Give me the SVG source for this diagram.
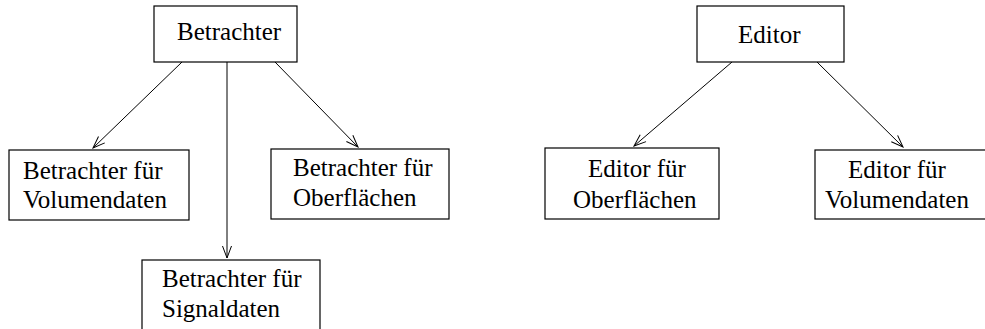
<svg xmlns="http://www.w3.org/2000/svg" width="985" height="329" viewBox="0 0 985 329">
  <defs>
    <marker id="open-arrow" markerUnits="userSpaceOnUse" markerWidth="16" markerHeight="12" viewBox="-14 -6 16 12" refX="0" refY="0" orient="auto">
      <path d="M-12,-4.5 L0,0 L-12,4.5" fill="none" stroke="#000" stroke-width="1"/>
    </marker>
  </defs>
  <style>
    .box { fill: #fff; stroke: #000; stroke-width: 1.2; }
    .lbl { font-family: "Liberation Serif", "Times New Roman", serif; font-size: 25px; fill: #000; }
    .edge { fill: none; stroke: #000; stroke-width: 1; marker-end: url(#open-arrow); }
  </style>
  <rect width="985" height="329" fill="#fff"/>

  <g id="connectors">
    <line class="edge" x1="182" y1="62" x2="93" y2="148"/>
    <line class="edge" x1="227" y1="62" x2="227" y2="258"/>
    <line class="edge" x1="275" y1="62" x2="358" y2="147"/>
    <line class="edge" x1="732" y1="62" x2="634" y2="146"/>
    <line class="edge" x1="817" y1="62" x2="903" y2="147"/>
  </g>

  <g id="betrachter">
    <rect class="box" x="154" y="6" width="143" height="56"/>
    <text class="lbl" x="177" y="40">Betrachter</text>
  </g>

  <g id="betrachter-volumendaten">
    <rect class="box" x="9" y="150" width="180" height="70"/>
    <text class="lbl" x="23" y="179">Betrachter für</text>
    <text class="lbl" x="23" y="208">Volumendaten</text>
  </g>

  <g id="betrachter-signaldaten">
    <rect class="box" x="142" y="260" width="178" height="80"/>
    <text class="lbl" x="162" y="287">Betrachter für</text>
    <text class="lbl" x="162" y="317">Signaldaten</text>
  </g>

  <g id="betrachter-oberflaechen">
    <rect class="box" x="271" y="149" width="178" height="70"/>
    <text class="lbl" x="293" y="176">Betrachter für</text>
    <text class="lbl" x="293" y="206">Oberflächen</text>
  </g>

  <g id="editor">
    <rect class="box" x="697" y="6" width="147" height="56"/>
    <text class="lbl" x="738" y="43">Editor</text>
  </g>

  <g id="editor-oberflaechen">
    <rect class="box" x="545" y="148" width="174" height="71"/>
    <text class="lbl" x="588" y="177">Editor für</text>
    <text class="lbl" x="573" y="208">Oberflächen</text>
  </g>

  <g id="editor-volumendaten">
    <rect class="box" x="815" y="150" width="180" height="69"/>
    <text class="lbl" x="848" y="178">Editor für</text>
    <text class="lbl" x="825" y="208">Volumendaten</text>
  </g>
</svg>
